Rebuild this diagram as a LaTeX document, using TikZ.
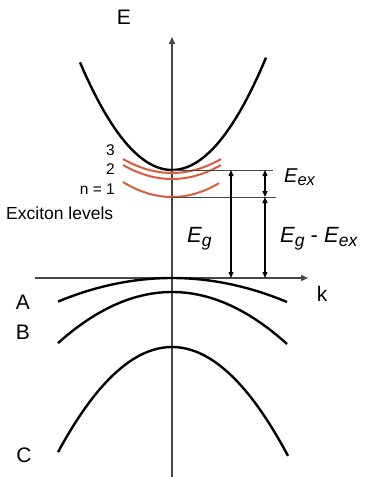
\documentclass[tikz,border=0pt]{standalone}
\usepackage{fontspec}
\setmainfont{Liberation Sans}
\usetikzlibrary{arrows.meta}
\definecolor{exred}{RGB}{222,92,62}
\definecolor{axisgray}{RGB}{70,70,70}
\tikzset{
  band/.style={line width=2.4pt,black},
  exlevel/.style={line width=2pt,exred},
  axisline/.style={line width=1.6pt,axisgray,-{Triangle[length=7pt,width=6pt]}},
  levelline/.style={line width=0.9pt,axisgray},
  dimarrow/.style={line width=1.3pt,black,{Triangle[length=6pt,width=5pt]}-{Triangle[length=6pt,width=5pt]}},
  big/.style={font=\fontsize{21}{21}\selectfont,inner sep=0pt},
  mid/.style={font=\fontsize{17.5}{17.5}\selectfont,inner sep=0pt},
  small/.style={font=\fontsize{15.5}{15.5}\selectfont,inner sep=0pt},
}
\newcommand{\EsubL}[1]{{\fontsize{22}{22}\selectfont\itshape E}\raisebox{-4pt}{\fontsize{17.5}{17.5}\selectfont\itshape #1}}
\newcommand{\EsubS}[1]{{\fontsize{20}{20}\selectfont\itshape E}\raisebox{-3pt}{\fontsize{16.5}{16.5}\selectfont\itshape #1}}
\begin{document}
\begin{tikzpicture}[x=1pt,y=-1pt]
\useasboundingbox (0,0) rectangle (366,477);
% axes
\coordinate (ebot) at (172,477);
\coordinate (etop) at (172,37);
\coordinate (kleft) at (35,278);
\coordinate (kright) at (308,278);
\draw[axisline] (ebot) -- (etop);
\draw[axisline] (kleft) -- (kright);
\node[big] (Elab) at (124,17) {E};
\node[big] (klab) at (322,294) {k};
% conduction band
\draw[band] plot[domain=-92:94,samples=60] ({172+\x},{170-110*(\x/93)^2});
% exciton levels
\draw[exlevel] plot[domain=-49:49,samples=40] ({172+\x},{173-14*(\x/49)^2});
\draw[exlevel] plot[domain=-49:49,samples=40] ({172+\x},{179-14*(\x/49)^2});
\draw[exlevel] plot[domain=-49:47,samples=40] ({172+\x},{197-15*(\x/49)^2});
\node[small,anchor=east] (n3) at (115,150) {3};
\node[small,anchor=east] (n2) at (115,169) {2};
\node[small,anchor=east] (n1) at (115,189) {n = 1};
\node[mid,anchor=west] (exl) at (6,213) {Exciton levels};
% level lines
\coordinate (cbmin) at (172,170);
\coordinate (cbminR) at (273,170);
\coordinate (exmin) at (172,197);
\coordinate (exminR) at (276,197);
\draw[levelline] (cbmin) -- (cbminR);
\draw[levelline] (exmin) -- (exminR);
% dimension arrows
\coordinate (g1) at (231,170);
\coordinate (g2) at (231,278);
\coordinate (x1) at (265,170);
\coordinate (x2) at (265,197);
\coordinate (x3) at (265,278);
\draw[dimarrow] (g1) -- (g2);
\draw[dimarrow] (x1) -- (x2);
\draw[dimarrow] (x2) -- (x3);
\node[anchor=base west,inner sep=0pt] (Eg) at (187,242) {\EsubL{g}};
\node[anchor=base west,inner sep=0pt] (Eex) at (284,182) {\EsubS{ex}};
\node[anchor=base west,inner sep=0pt] (Egex) at (280,242) {\EsubL{g}{\fontsize{22}{22}\selectfont{} - }\EsubL{ex}};
% valence bands
\draw[band] plot[domain=-114:115,samples=60] ({172+\x},{278+24*(\x/115)^2});
\draw[band] plot[domain=-114:115,samples=60] ({172+\x},{292+52*(\x/115)^2});
\draw[band] plot[domain=-114:116,samples=60] ({172+\x},{347+107*(\x/115)^2});
\node[big] (A) at (23,302) {A};
\node[big] (B) at (23,332) {B};
\node[big] (C) at (24,455) {C};
\end{tikzpicture}
\end{document}
